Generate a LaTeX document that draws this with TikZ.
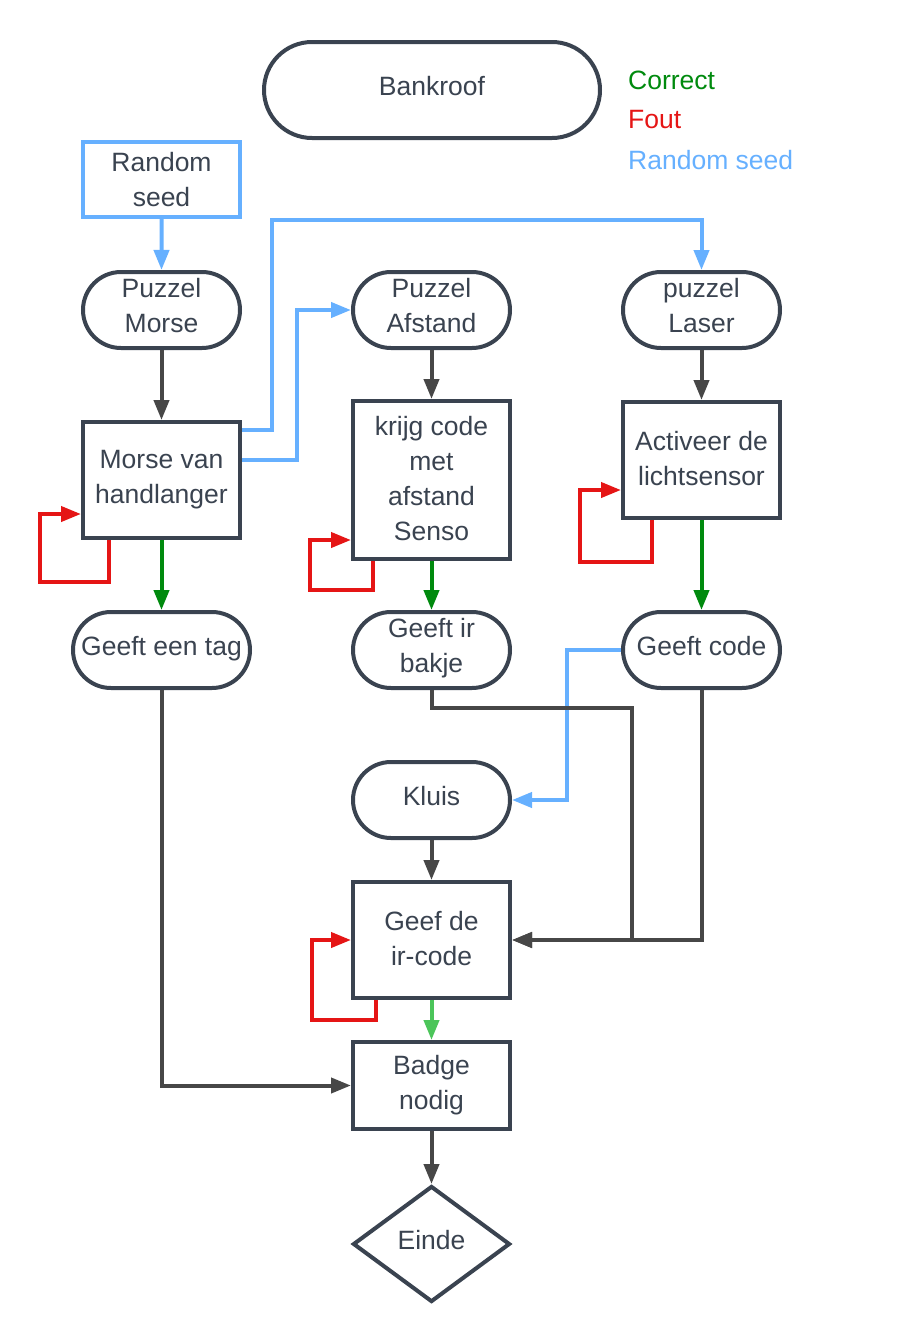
\documentclass[tikz,border=0pt]{standalone}
\usepackage{fontspec}
\setmainfont{Liberation Sans}
\usetikzlibrary{arrows.meta,shapes.misc,shapes.geometric}
\definecolor{nodeborder}{HTML}{3A4350}
\definecolor{txt}{HTML}{3A4350}
\definecolor{conn}{HTML}{474747}
\definecolor{ok}{HTML}{008A0E}
\definecolor{bad}{HTML}{E51515}
\definecolor{seed}{HTML}{66B0FF}
\definecolor{okl}{HTML}{4CC55A}
\def\mynodedp{10pt}
\begin{document}
\begin{tikzpicture}[x=1pt,y=-1pt,
  textdp/.code={\def\mynodedp{#1}},
  base/.style={draw=nodeborder, line width=4pt, fill=white, text=txt,
    font=\fontsize{26.5}{35}\selectfont, align=center, inner sep=0pt,
    textdp=10pt,
    execute at begin node={\rule{0pt}{20pt}},
    execute at end node={\rule[-\mynodedp]{0pt}{\mynodedp}}},
  term/.style={base, rounded rectangle, minimum width=157pt, minimum height=76pt},
  proc/.style={base, rectangle, minimum width=157pt, textdp=4pt},
  link/.style={line width=4pt, -{Triangle[length=20pt,width=15pt]}},
  darklink/.style={link, draw=conn},
  oklink/.style={link, draw=ok},
  badlink/.style={link, draw=bad},
  seedlink/.style={link, draw=seed},
  legend/.style={anchor=west, font=\fontsize{26.5}{35}\selectfont, inner sep=0pt},
]
\useasboundingbox (0,0) rectangle (902,1344);

% nodes
\node[base, rounded rectangle, minimum width=336pt, minimum height=96pt] (bank) at (432,90) {Bankroof};
\node[legend, text=ok] (lc) at (628,80) {Correct};
\node[legend, text=bad] (lf) at (628,120) {Fout};
\node[legend, text=seed] (ls) at (628,160) {Random seed};

\node[proc, draw=seed, minimum height=75pt, textdp=0pt] (seed) at (161.5,179.5) {Random\\seed};

\node[term] (pmorse) at (161.5,310) {Puzzel\\Morse};
\node[term] (pafst) at (431.5,310) {Puzzel\\Afstand};
\node[term] (plaser) at (701.5,310) {puzzel\\Laser};

\node[proc, minimum height=116pt] (morse) at (161.5,480) {Morse van\\handlanger};
\node[proc, minimum height=158pt] (krijg) at (431.5,480) {krijg code\\met\\afstand\\Senso};
\node[proc, minimum height=116pt] (activ) at (701.5,460) {Activeer de\\lichtsensor};

\node[term, minimum width=177pt] (tag) at (161.5,650) {Geeft een tag};
\node[term] (bakje) at (431.5,650) {Geeft ir\\bakje};
\node[term] (code) at (701.5,650) {Geeft code};

\node[term] (kluis) at (431.5,800) {Kluis};
\node[proc, minimum height=116pt] (geef) at (431.5,940) {Geef de\\ir-code};
\node[proc, minimum height=87pt] (badge) at (431.5,1085.5) {Badge\\nodig};
\node[base, diamond, aspect=1.34, minimum width=157pt, minimum height=116pt] (einde) at (431.5,1244) {Einde};

% connectors
\draw[seedlink] (seed) -- (pmorse);
\draw[seedlink] ([yshift=50pt]morse.east) -| (272,220) -| (plaser.north);
\draw[seedlink] ([yshift=20pt]morse.east) -| (297,310) -- (pafst.west);
\draw[seedlink] (code.west) -| (567,800) -- (kluis.east);

\draw[darklink] (pmorse) -- (morse);
\draw[darklink] (pafst) -- (krijg);
\draw[darklink] (plaser) -- (activ);

\draw[oklink] (morse) -- (tag);
\draw[oklink] (krijg) -- (bakje);
\draw[oklink] (activ) -- (code);
\draw[link, draw=okl] (geef) -- (badge);

\draw[badlink] ([xshift=-53pt]morse.south) |- (40,582) |- ([yshift=-34pt]morse.west);
\draw[badlink] ([xshift=-59pt]krijg.south) |- (310,590) |- ([yshift=-60pt]krijg.west);
\draw[badlink] ([xshift=-50pt]activ.south) |- (580,562) |- ([yshift=-30pt]activ.west);
\draw[badlink] ([xshift=-56pt]geef.south) |- (312,1020) |- (geef.west);

\draw[darklink] (bakje.south) |- (632,708) |- (geef.east);
\draw[darklink] (code.south) |- (geef.east);
\draw[darklink] (kluis) -- (geef);
\draw[darklink] (tag.south) |- (badge.west);
\draw[darklink] (badge) -- (einde);
\end{tikzpicture}
\end{document}
